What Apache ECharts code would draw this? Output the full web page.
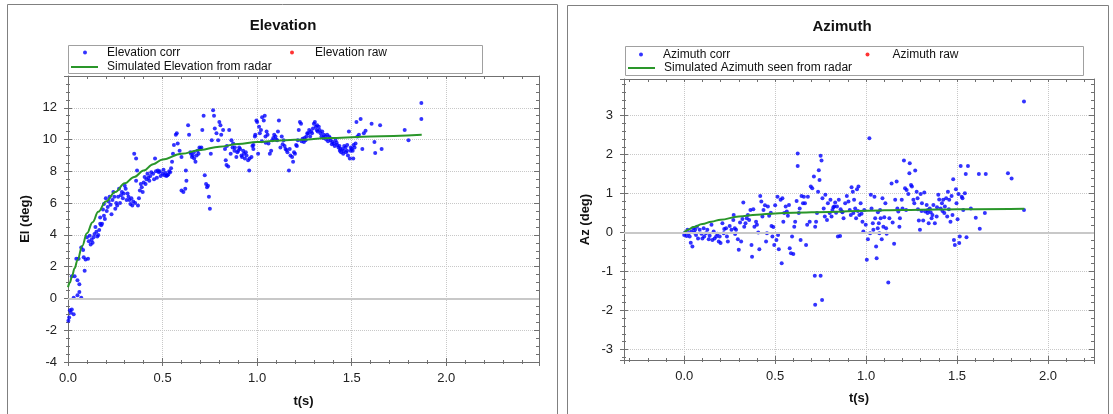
<!DOCTYPE html>
<html>
<head>
<meta charset="utf-8">
<script src="https://cdn.jsdelivr.net/npm/echarts@6/dist/echarts.min.js"></script>
<style>
html, body { margin: 0; padding: 0; background: #fff; }
#chart { width: 1113px; height: 414px; }
</style>
</head>
<body>
<div id="chart"></div>
<script>
// t (s), elevation (deg)
var elevCorr = [
  [0.002,-1.4],[0.006,-1.2],[0.01,-0.75],[0.015,-0.9],[0.02,-0.7],[0.03,-1.0],
  [0.03,0.05],[0.05,0.2],[0.06,0.4],[0.07,0.05],[0.02,1.4],[0.035,1.4],
  [0.044,2.5],[0.056,2.5],[0.05,1.15],[0.06,0.9],[0.07,3.2],[0.08,3.05],[0.083,2.6],[0.088,1.75],
  [0.093,2.45],[0.106,2.5],[0.1,3.85],[0.115,3.95],[0.12,3.4],[0.13,3.5],[0.14,4.05],[0.15,4.2],
  [0.155,3.9],[0.145,4.5],[0.17,4.7],[0.18,4.7],[0.17,5.1],[0.185,5.6],[0.19,5.95],[0.19,5.2],
  [0.2,6.3],[0.21,5.75],[0.22,6.4],[0.23,5.3],[0.24,6.7],[0.25,5.65],[0.26,5.85],[0.265,6.4],
  [0.27,6.9],[0.28,6.5],[0.29,6.3],[0.3,7.1],[0.31,6.2],[0.32,6.4],[0.33,5.95],[0.34,5.85],
  [0.345,6.1],[0.35,9.1],[0.36,8.8],[0.365,8.06],[0.36,7.4],[0.37,5.85],[0.38,6.8],[0.39,7.0],
  [0.4,7.3],[0.405,7.64],[0.415,7.5],[0.42,7.85],[0.43,7.4],[0.44,7.95],[0.45,7.85],[0.46,8.8],
  [0.47,7.6],[0.475,8.06],[0.48,7.95],[0.49,7.7],[0.5,7.85],[0.51,7.75],[0.52,7.7],[0.53,7.8],
  [0.54,7.95],[0.55,8.6],[0.555,9.1],[0.56,9.65],[0.57,10.3],[0.575,10.4],[0.58,9.75],[0.59,9.3],
  [0.6,8.9],[0.6,6.8],[0.61,6.7],[0.62,6.9],[0.623,8.06],[0.626,7.4],[0.635,10.9],[0.64,10.3],
  [0.647,9.2],[0.66,9.0],[0.667,8.8],[0.674,8.6],[0.68,9.0],[0.69,9.1],[0.7,9.4],[0.705,9.5],
  [0.71,10.6],[0.717,11.5],[0.723,7.75],[0.73,7.2],[0.735,7.0],[0.74,7.1],[0.745,6.4],[0.75,5.65],
  [0.755,9.1],[0.76,9.95],[0.767,11.85],[0.772,11.5],[0.776,10.7],[0.785,10.4],[0.794,9.95],[0.8,11.1],
  [0.806,10.9],[0.81,10.3],[0.82,10.6],[0.83,9.4],[0.834,8.7],[0.838,8.4],[0.847,8.3],[0.852,10.6],
  [0.86,9.1],[0.864,9.95],[0.873,9.75],[0.882,9.5],[0.89,8.9],[0.9,9.3],[0.91,9.4],[0.917,9.0],
  [0.926,9.3],[0.935,8.8],[0.944,9.0],[0.952,8.7],[0.958,8.06],[0.97,8.9],[0.98,9.4],[0.988,10.2],
  [0.996,11.2],[0.98,9.65],[0.99,10.3],[1.0,11.1],[1.005,9.1],[1.01,10.8],[1.014,10.4],[1.02,10.6],
  [1.026,11.4],[1.035,11.2],[1.04,11.5],[1.044,10.2],[1.05,10.5],[1.06,9.75],[1.067,9.1],[1.074,9.3],
  [1.08,9.95],[1.09,10.3],[1.097,10.2],[1.106,9.95],[1.115,11.2],[1.123,9.5],[1.13,10.2],[1.14,9.95],
  [1.15,9.4],[1.155,9.35],[1.16,9.2],[1.168,8.06],[1.172,9.4],[1.176,9.0],[1.185,8.9],[1.19,8.6],
  [1.195,9.2],[1.2,9.1],[1.206,9.65],[1.215,9.95],[1.22,10.6],[1.226,11.1],[1.232,11.0],[1.24,10.05],
  [1.247,9.85],[1.256,9.95],[1.265,10.4],[1.27,10.4],[1.28,10.2],[1.29,10.4],[1.3,11.0],[1.305,11.1],
  [1.31,10.8],[1.317,10.9],[1.326,10.8],[1.335,10.4],[1.344,10.5],[1.353,10.3],[1.36,10.2],[1.37,10.3],
  [1.38,10.2],[1.388,9.95],[1.397,9.85],[1.405,9.75],[1.414,9.95],[1.423,9.65],[1.43,9.5],[1.437,9.3],
  [1.444,9.2],[1.45,9.4],[1.458,9.3],[1.467,9.5],[1.47,9.2],[1.476,9.65],[1.485,10.5],[1.49,8.8],
  [1.494,9.3],[1.5,9.4],[1.508,8.8],[1.51,9.65],[1.52,9.75],[1.525,11.1],[1.53,10.2],[1.538,10.3],
  [1.547,11.3],[1.556,9.4],[1.564,10.4],[1.573,10.55],[1.605,11.0],[1.62,9.85],[1.624,9.15],[1.65,10.9],
  [1.658,9.4],[1.78,10.6],[1.8,9.95],[1.868,12.3],[1.868,11.3],
  [0.11,3.6],[0.125,3.7],[0.135,3.85],[0.16,4.0],[0.165,4.3],[0.175,4.6],[0.195,5.0],[0.205,5.5],
  [0.215,6.1],[0.225,5.9],[0.235,6.2],[0.245,6.4],[0.255,6.0],[0.275,6.0],[0.285,6.7],[0.295,6.6],
  [0.305,6.9],[0.315,6.6],[0.325,6.2],[0.335,6.3],[0.355,6.0],[0.375,6.3],[0.385,7.2],[0.395,6.7],
  [0.41,7.2],[0.425,7.6],[0.435,7.7],[0.455,7.5],[0.465,8.0],[0.485,8.0],[0.505,8.1],[0.515,7.9],
  [0.525,7.75],[0.535,8.0],[0.545,8.2],[0.65,9.1],[0.655,8.9],[0.665,9.2],[0.685,9.3],[0.695,9.5],
  [0.84,9.6],[0.87,9.5],[0.88,9.3],[0.895,9.2],[0.905,9.5],[0.92,8.9],[0.93,9.1],[0.94,9.2],
  [0.96,8.8],[0.975,9.6],[1.025,9.9],[1.045,9.8],[1.055,10.3],[1.085,10.1],[1.1,10.0],[1.11,10.5],
  [1.135,9.7],[1.145,9.6],[1.21,9.6],[1.235,9.9],[1.25,10.1],[1.26,10.2],[1.275,10.6],[1.285,10.5],
  [1.295,10.7],[1.315,10.6],[1.32,10.5],[1.33,10.6],[1.34,10.2],[1.35,10.1],[1.365,10.0],[1.375,9.9],
  [1.385,10.1],[1.395,9.7],[1.41,9.6],[1.42,9.8],[1.435,9.6],[1.44,9.4],[1.455,9.1],[1.46,9.6],
  [1.475,9.3],[1.48,9.0],[1.495,9.5],[1.505,9.3],[1.515,9.5]
];
var elevRaw = [];
var elevSim = [
  [0,0.7],[0.01,1.0],[0.02,1.35],[0.035,1.9],[0.05,2.4],[0.075,3.3],[0.1,4.1],[0.13,4.8],
  [0.16,5.45],[0.2,6.1],[0.25,6.7],[0.3,7.25],[0.35,7.65],[0.4,8.05],[0.45,8.45],[0.5,8.75],
  [0.6,9.1],[0.7,9.35],[0.8,9.55],[0.9,9.72],[1.0,9.85],[1.1,9.92],[1.2,9.98],[1.4,10.1],
  [1.6,10.2],[1.87,10.3]
];

// t (s), azimuth (deg)
var azCorr = [
  [0,-0.06],[0.005,0],[0.013,-0.09],[0.018,0.07],[0.025,-0.02],[0.03,-0.1],[0.036,-0.26],[0.045,-0.36],
  [0.04,0.03],[0.05,0.11],[0.055,0.0],[0.06,0.07],[0.065,-0.06],[0.07,0.15],[0.076,-0.15],[0.085,0.07],
  [0.095,-0.03],[0.1,-0.15],[0.107,0.11],[0.11,-0.1],[0.12,-0.02],[0.127,0.07],[0.135,-0.17],[0.14,-0.08],
  [0.15,0.2],[0.155,-0.19],[0.162,0.03],[0.167,-0.15],[0.176,-0.1],[0.182,-0.03],[0.19,-0.23],[0.195,-0.1],
  [0.2,-0.27],[0.21,0.24],[0.217,-0.02],[0.22,0.09],[0.23,0.11],[0.235,-0.1],[0.24,-0.23],[0.25,0.17],
  [0.26,0.07],[0.27,0.32],[0.272,0.45],[0.278,0.11],[0.28,-0.04],[0.285,0.07],[0.295,-0.17],[0.3,-0.44],
  [0.307,0.26],[0.313,-0.23],[0.32,0.35],[0.325,0.77],[0.33,0.15],[0.337,0.24],[0.344,0.37],[0.35,0.45],
  [0.357,0.32],[0.364,0.58],[0.37,-0.32],[0.373,-0.62],[0.38,0.6],[0.386,0.15],[0.395,0.28],[0.4,0.2],
  [0.407,0],[0.413,-0.43],[0.418,0.94],[0.424,0.8],[0.43,0.41],[0.436,0.58],[0.444,0.7],[0.45,-0.23],
  [0.455,-0.02],[0.46,0.67],[0.467,0.43],[0.476,0.51],[0.48,0.17],[0.485,-0.1],[0.49,0.14],[0.495,-0.32],
  [0.5,0.7],[0.507,-0.19],[0.513,0.92],[0.516,-0.06],[0.52,-0.43],[0.53,0.84],[0.536,-0.79],[0.54,0.88],
  [0.545,0.28],[0.55,0.5],[0.558,0.67],[0.564,0.54],[0.57,0.43],[0.576,0.71],[0.58,-0.4],[0.587,-0.53],
  [0.593,-0.1],[0.6,-0.55],[0.605,0.15],[0.61,0.28],[0.618,0.81],[0.624,2.03],[0.624,1.71],[0.63,0.5],
  [0.635,0.62],[0.64,-0.19],[0.645,0.94],[0.653,0.75],[0.658,0.92],[0.664,0.75],[0.67,-0.32],[0.676,0.2],
  [0.68,0.92],[0.69,0.28],[0.696,1.18],[0.704,1.14],[0.713,1.44],[0.718,-1.11],[0.72,0.15],[0.72,-1.85],
  [0.725,0.28],[0.73,0.5],[0.736,1.05],[0.74,1.6],[0.744,1.35],[0.75,-1.11],[0.75,1.97],[0.755,1.85],
  [0.758,-1.73],[0.76,0.88],[0.767,0.62],[0.773,0.41],[0.776,0.97],[0.785,0.32],[0.79,0.75],[0.8,0.5],
  [0.804,0.84],[0.81,0.41],[0.815,0.58],[0.82,0.65],[0.825,0.67],[0.83,0.77],[0.835,0.51],[0.84,0.67],
  [0.845,-0.1],[0.85,0.84],[0.857,-0.09],[0.867,0.54],[0.876,0.37],[0.885,0.75],[0.894,0.94],[0.903,0.8],
  [0.91,0.58],[0.916,0.45],[0.92,1.16],[0.927,1.05],[0.934,0.84],[0.94,0.62],[0.945,0.37],[0.95,1.11],
  [0.958,1.18],[0.963,0.45],[0.97,0.75],[0.98,0.28],[0.985,0.03],[0.99,0.58],[0.998,0.2],[1.004,-0.7],
  [1.01,-0.17],[1.018,2.42],[1.022,-0.02],[1.026,0.97],[1.03,0.62],[1.037,0.24],[1.04,0.07],[1.046,0.92],
  [1.05,0.37],[1.055,-0.36],[1.058,-0.66],[1.064,0.11],[1.07,0.24],[1.073,-0.02],[1.077,0.58],[1.08,0.37],
  [1.086,-0.17],[1.09,0.88],[1.095,0.15],[1.1,0.39],[1.106,0.75],[1.11,0.11],[1.113,-0.03],[1.122,-1.28],
  [1.128,0.37],[1.14,1.26],[1.146,0.26],[1.154,-0.29],[1.16,0.84],[1.168,1.31],[1.172,0.62],[1.177,0.54],
  [1.183,0.15],[1.186,0.37],[1.196,0.84],[1.2,0.62],[1.208,1.85],[1.214,1.14],[1.22,0.58],[1.223,1.09],
  [1.232,0.99],[1.238,1.52],[1.24,1.78],[1.247,1.22],[1.252,1.18],[1.26,0.84],[1.265,0.75],[1.27,1.59],
  [1.278,1.05],[1.283,0.88],[1.29,0.31],[1.296,0.07],[1.3,0.99],[1.307,0.75],[1.314,0.31],[1.32,1.03],
  [1.325,0.54],[1.333,0.71],[1.338,0.5],[1.344,0.24],[1.35,0.62],[1.36,0.37],[1.37,0.71],[1.378,0.24],
  [1.388,0.41],[1.397,0.97],[1.402,0.85],[1.41,0.62],[1.417,0.75],[1.424,0.84],[1.433,0.67],[1.44,0.88],
  [1.446,0.41],[1.45,1.05],[1.457,0.84],[1.464,0.28],[1.47,0.94],[1.479,1.37],[1.483,-0.19],[1.488,-0.32],
  [1.494,1.11],[1.497,0.75],[1.503,0.34],[1.508,0.99],[1.512,-0.27],[1.515,-0.1],[1.52,1.71],[1.526,0.92],
  [1.53,0.88],[1.534,0.58],[1.543,1.01],[1.548,1.5],[1.552,-0.12],[1.56,1.71],[1.576,0.62],[1.603,0.38],
  [1.62,1.5],[1.625,0.1],[1.653,0.5],[1.658,1.5],[1.78,1.52],[1.8,1.39],[1.868,3.36],[1.868,0.58],
  [0.93,0.5],[0.955,0.55],[0.975,0.48],[1.065,0.52],[1.285,0.6],[1.305,0.55],[1.34,0.58],[1.355,0.52],
  [1.365,0.45],[1.39,0.65],[1.42,0.55],[1.43,0.5],[1.455,0.6],[1.475,0.45],[0.86,0.6],[0.87,0.52]
];
var azRaw = [];
var azSim = [
  [0,0.0],[0.01,0.04],[0.02,0.07],[0.05,0.14],[0.1,0.22],[0.15,0.28],[0.2,0.33],[0.3,0.41],
  [0.4,0.46],[0.5,0.49],[0.6,0.51],[0.8,0.53],[1.0,0.56],[1.2,0.58],[1.4,0.59],[1.6,0.6],[1.87,0.61]
];

var FONT = '"Liberation Sans", Arial, sans-serif';
var AXIS = '#707070';
var GRIDLINE = '#c8c8c8';
var BLUE = '#0000ff';
var RED = '#ff0000';
var GREEN = '#2a962a';

function lbl(extra) {
  return Object.assign({ show: true, color: '#222', fontFamily: FONT, fontSize: 13 }, extra);
}

// three axes per side pair: main (outside ticks, labels), inner copy (inside ticks), opposite side (inside ticks)
function axesFor(grid, min, max, interval, minorSplit, mainPos, farPos, opts) {
  var ls = { color: AXIS, width: 1 };
  function base(extra) {
    var a = {
      type: 'value', gridIndex: grid, min: min, max: max, silent: true,
      axisLine: { show: false, onZero: false },
      axisTick: { show: false },
      axisLabel: { show: false },
      splitLine: { show: false },
      minorTick: { show: false }
    };
    if (interval) a.interval = interval;
    return Object.assign(a, extra);
  }
  return [
    base({
      position: mainPos,
      name: opts.name, nameLocation: 'middle', nameGap: opts.nameGap,
      nameTextStyle: { fontFamily: FONT, fontSize: 13, fontWeight: 'bold', color: '#111' },
      axisLine: { show: true, onZero: false, lineStyle: ls },
      axisTick: { show: true, length: 4, lineStyle: ls },
      minorTick: { show: true, splitNumber: minorSplit, length: 2, lineStyle: ls },
      axisLabel: lbl(opts.label),
      splitLine: { show: true, lineStyle: { color: GRIDLINE, type: 'dotted', width: 1 } }
    }),
    base({
      position: mainPos,
      axisTick: { show: true, inside: true, length: 4, lineStyle: ls },
      minorTick: { show: true, splitNumber: minorSplit, length: 2, lineStyle: ls }
    }),
    base({
      position: farPos,
      axisLine: { show: true, onZero: false, lineStyle: ls },
      axisTick: { show: true, inside: true, length: opts.farMajor, lineStyle: ls },
      minorTick: { show: true, splitNumber: minorSplit, length: 3, lineStyle: ls }
    })
  ];
}

function fmt1(v) { return v.toFixed(1); }

var xAxes = [].concat(
  axesFor(0, 0, 2.49, 0.5, 5, 'bottom', 'top',
    { name: 't(s)', nameGap: 33, farMajor: 3, label: { margin: 10, formatter: fmt1, showMaxLabel: false } }),
  axesFor(1, -0.331, 2.253, null, 5, 'bottom', 'top',
    { name: 't(s)', nameGap: 32, farMajor: 3, label: { margin: 10, formatter: fmt1, showMinLabel: false, showMaxLabel: false } })
);
var yAxes = [].concat(
  axesFor(0, -4, 14, 2, 4, 'left', 'right',
    { name: 'El (deg)', nameGap: 36, farMajor: 5, label: { margin: 11, showMaxLabel: false } }),
  axesFor(1, -3.27, 3.94, null, 5, 'left', 'right',
    { name: 'Az (deg)', nameGap: 32, farMajor: 5, label: { margin: 11, showMinLabel: false, showMaxLabel: false } })
);

// one legend per entry so each sits where the reference puts it
function legendItem(name, icon, left, top, w, h, textPad) {
  return {
    left: left, top: top, padding: 0, itemGap: 0, itemWidth: w, itemHeight: h,
    selectedMode: false, data: [{ name: name, icon: icon }],
    textStyle: { fontFamily: FONT, fontSize: 12, lineHeight: 14, color: '#111', padding: [0, 0, 0, textPad] }
  };
}

var zeroLine = {
  silent: true, symbol: 'none', label: { show: false },
  lineStyle: { color: GRIDLINE, type: 'solid', width: 2 },
  data: [{ yAxis: 0 }]
};

var chart = echarts.init(document.getElementById('chart'));
chart.setOption({
  backgroundColor: '#fff',
  animation: false,
  graphic: [
    { type: 'rect', shape: { x: 7.5, y: 4.5, width: 550, height: 420 }, style: { fill: '#fff', stroke: '#808080', lineWidth: 1 }, z: -10 },
    { type: 'rect', shape: { x: 567.5, y: 5.5, width: 541, height: 420 }, style: { fill: '#fff', stroke: '#808080', lineWidth: 1 }, z: -10 },
    { type: 'rect', shape: { x: 68.5, y: 45.5, width: 414, height: 28 }, style: { fill: '#fff', stroke: '#a0a0a0', lineWidth: 1 }, z: -5 },
    { type: 'rect', shape: { x: 625.5, y: 46.5, width: 458, height: 29 }, style: { fill: '#fff', stroke: '#a0a0a0', lineWidth: 1 }, z: -5 },
    { type: 'text', x: 283, y: 25.5, style: { text: 'Elevation', fontFamily: FONT, fontSize: 15, fontWeight: 'bold', fill: '#111', align: 'center', verticalAlign: 'middle' } },
    { type: 'text', x: 842, y: 27, style: { text: 'Azimuth', fontFamily: FONT, fontSize: 15, fontWeight: 'bold', fill: '#111', align: 'center', verticalAlign: 'middle' } }
  ],
  legend: [
    legendItem('Elevation corr', 'circle', 83, 45.5, 4, 4, 15),
    legendItem('Elevation raw', 'circle', 290, 45.5, 4, 4, 16),
    legendItem('Simulated Elevation from radar', 'rect', 71, 60, 27, 2, 4),
    legendItem('Azimuth corr', 'circle', 639, 47.6, 4, 4, 15),
    legendItem('Azimuth raw', 'circle', 865.5, 47.6, 4, 4, 18),
    legendItem('Simulated Azimuth seen from radar', 'rect', 628, 61, 27, 2, 4)
  ],
  grid: [
    { left: 68, top: 76, width: 471, height: 286 },
    { left: 624, top: 79, width: 470, height: 281 }
  ],
  xAxis: xAxes,
  yAxis: yAxes,
  series: [
    { name: 'Elevation raw', type: 'scatter', xAxisIndex: 0, yAxisIndex: 0, data: elevRaw,
      symbolSize: 4, itemStyle: { color: RED }, markLine: zeroLine, z: 1 },
    { name: 'Elevation corr', type: 'scatter', xAxisIndex: 0, yAxisIndex: 0, data: elevCorr,
      symbolSize: 4, itemStyle: { color: BLUE }, z: 2 },
    { name: 'Simulated Elevation from radar', type: 'line', xAxisIndex: 0, yAxisIndex: 0, data: elevSim,
      symbol: 'none', showSymbol: false, smooth: 0.4, smoothMonotone: 'x',
      lineStyle: { color: GREEN, width: 2 }, itemStyle: { color: GREEN }, z: 3 },
    { name: 'Azimuth raw', type: 'scatter', xAxisIndex: 3, yAxisIndex: 3, data: azRaw,
      symbolSize: 4, itemStyle: { color: RED }, markLine: zeroLine, z: 1 },
    { name: 'Azimuth corr', type: 'scatter', xAxisIndex: 3, yAxisIndex: 3, data: azCorr,
      symbolSize: 4, itemStyle: { color: BLUE }, z: 2 },
    { name: 'Simulated Azimuth seen from radar', type: 'line', xAxisIndex: 3, yAxisIndex: 3, data: azSim,
      symbol: 'none', showSymbol: false, smooth: 0.4, smoothMonotone: 'x',
      lineStyle: { color: GREEN, width: 2 }, itemStyle: { color: GREEN }, z: 3 }
  ]
});
</script>
</body>
</html>
